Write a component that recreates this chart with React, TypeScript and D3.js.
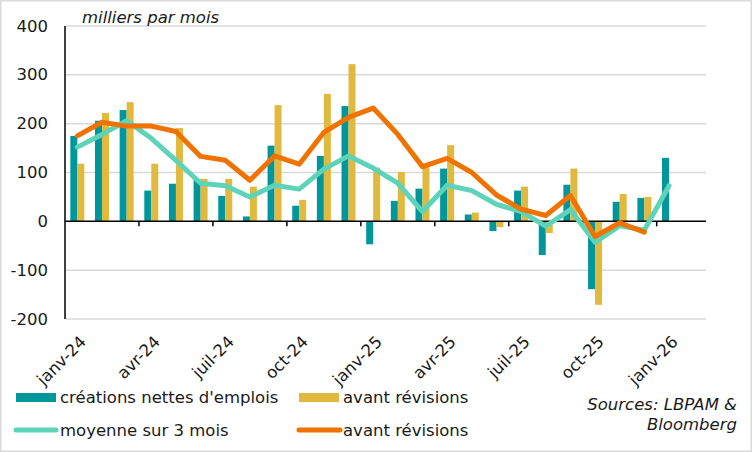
import React from 'react';
import * as d3 from 'd3';

// months (one band each, last one left empty like the source chart)
const months: string[] = [
  'janv-24', 'févr-24', 'mars-24', 'avr-24', 'mai-24', 'juin-24', 'juil-24', 'août-24', 'sept-24',
  'oct-24', 'nov-24', 'déc-24', 'janv-25', 'févr-25', 'mars-25', 'avr-25', 'mai-25', 'juin-25',
  'juil-25', 'août-25', 'sept-25', 'oct-25', 'nov-25', 'déc-25', 'janv-26', 'févr-26',
];

// créations nettes d'emplois (milliers)
const netJobs: (number | null)[] = [
  175, 206, 228, 63, 77, 86, 52, 10, 155, 32, 134, 236, -47, 42, 67, 108, 14, -20, 63, -69, 75,
  -139, 40, 48, 130, null,
];

// avant révisions (bars)
const firstPrint: (number | null)[] = [
  118, 222, 244, 118, 191, 87, 87, 71, 238, 44, 261, 322, 110, 101, 112, 156, 18, -12, 71, -24,
  108, -171, 56, 50, null, null,
];

// moyenne sur 3 mois
const avg3m: (number | null)[] = [
  152, 178, 206, 170, 125, 78, 73, 50, 74, 66, 107, 134, 109, 78, 20, 74, 63, 35, 20, -10, 24,
  -43, -9, -18, 73, null,
];

// moyenne sur 3 mois, avant révisions
const avg3mFirst: (number | null)[] = [
  175, 203, 195, 195, 184, 133, 125, 84, 134, 117, 182, 213, 232, 178, 112, 129, 100, 54, 25, 12,
  53, -31, -3, -22, null, null,
];

const yTicks: number[] = [-200, -100, 0, 100, 200, 300, 400];

const TEAL = '#00979c';
const YELLOW = '#e1b93e';
const MINT = '#5dd3b9';
const ORANGE = '#f07300';
const GRID = '#d9d9d9';
const INK = '#1a1a1a';
const FONT = '"DejaVu Sans", sans-serif';
const FS = 16.5;

const W = 752;
const H = 452;
const plot = { left: 65, right: 706, top: 26, bottom: 319 };

export default function App() {
  const x = d3.scaleBand<string>().domain(months).range([plot.left, plot.right]);
  const y = d3.scaleLinear().domain([-200, 400]).range([plot.bottom, plot.top]);
  const cx = (i: number) => (x(months[i]) as number) + x.bandwidth() / 2;
  const barW = 7;

  const line = d3
    .line<number | null>()
    .defined((d) => d !== null)
    .x((_, i) => cx(i))
    .y((d) => y(d as number));

  const bar = (v: number | null, i: number, offset: number, color: string, key: string) => {
    if (v === null) return null;
    const y0 = y(0);
    const yv = y(v);
    return (
      <rect
        key={key + i}
        x={cx(i) + offset}
        y={Math.min(y0, yv)}
        width={barW}
        height={Math.abs(yv - y0)}
        fill={color}
      />
    );
  };

  return (
    <svg
      width={W}
      height={H}
      style={{ position: 'absolute', left: 0, top: 0, background: '#fff' }}
      fontFamily={FONT}
      fontSize={FS}
      fill={INK}
    >
      <rect x={0.75} y={0.75} width={W - 1.5} height={H - 1.5} fill="#fff" stroke={GRID} strokeWidth={1.5} />

      {/* gridlines */}
      {yTicks
        .filter((t) => t !== 0)
        .map((t) => (
          <line key={'g' + t} x1={plot.left} x2={plot.right} y1={y(t)} y2={y(t)} stroke={GRID} strokeWidth={1.5} />
        ))}

      {/* y labels */}
      {yTicks.map((t) => (
        <text key={'yl' + t} x={48} y={y(t)} textAnchor="end" dominantBaseline="central">
          {t}
        </text>
      ))}

      <text x={82} y={17} dominantBaseline="central" fontStyle="italic">
        milliers par mois
      </text>

      {/* bars */}
      <g>
        {netJobs.map((v, i) => bar(v, i, -barW, TEAL, 't'))}
        {firstPrint.map((v, i) => bar(v, i, 0, YELLOW, 'y'))}
      </g>

      {/* axes */}
      <line x1={plot.left} x2={plot.left} y1={plot.top} y2={plot.bottom} stroke="#000" strokeWidth={1.5} />
      <line x1={plot.left} x2={plot.right} y1={y(0)} y2={y(0)} stroke="#000" strokeWidth={1.5} />
      {months.map((m, i) =>
        i % 3 === 0 && i > 0 && i < months.length - 1 ? (
          <line
            key={'tk' + m}
            x1={x(m) as number}
            x2={x(m) as number}
            y1={y(0)}
            y2={y(0) + 5}
            stroke="#000"
            strokeWidth={1.5}
          />
        ) : null
      )}

      {/* lines */}
      <path d={line(avg3m) || ''} fill="none" stroke={MINT} strokeWidth={5} strokeLinejoin="round" strokeLinecap="round" />
      <path d={line(avg3mFirst) || ''} fill="none" stroke={ORANGE} strokeWidth={5} strokeLinejoin="round" strokeLinecap="round" />

      {/* x labels */}
      {months.map((m, i) =>
        i % 3 === 0 && i < 25 ? (
          <text
            key={'xl' + m}
            transform={`translate(${cx(i) + 6},${339}) rotate(-45)`}
            textAnchor="end"
            dominantBaseline="central"
          >
            {m}
          </text>
        ) : null
      )}

      {/* legend */}
      <rect x={16} y={393} width={40} height={9} fill={TEAL} />
      <text x={60} y={397} dominantBaseline="central">
        créations nettes d'emplois
      </text>
      <rect x={299} y={393} width={40} height={9} fill={YELLOW} />
      <text x={343} y={397} dominantBaseline="central">
        avant révisions
      </text>
      <line x1={16} x2={56} y1={430} y2={430} stroke={MINT} strokeWidth={5} strokeLinecap="round" />
      <text x={60} y={430} dominantBaseline="central">
        moyenne sur 3 mois
      </text>
      <line x1={299} x2={340} y1={430} y2={430} stroke={ORANGE} strokeWidth={5} strokeLinecap="round" />
      <text x={343} y={430} dominantBaseline="central">
        avant révisions
      </text>

      <text x={737} y={404} textAnchor="end" dominantBaseline="central" fontStyle="italic">
        Sources: LBPAM &amp;
      </text>
      <text x={737} y={424} textAnchor="end" dominantBaseline="central" fontStyle="italic">
        Bloomberg
      </text>
    </svg>
  );
}
